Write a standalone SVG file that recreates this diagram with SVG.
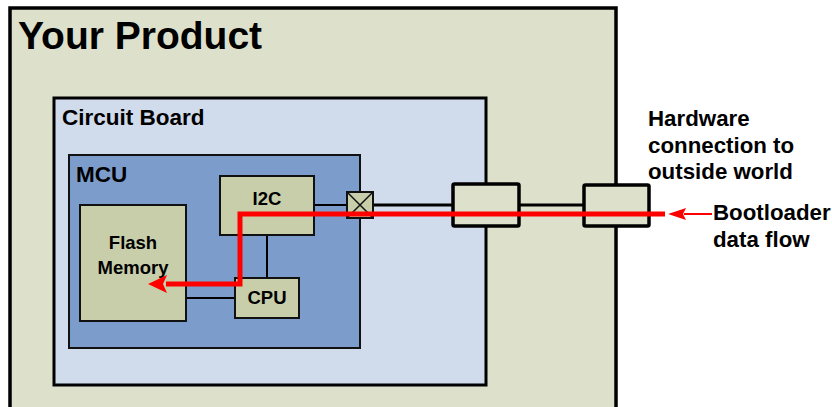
<svg xmlns="http://www.w3.org/2000/svg" width="832" height="407" viewBox="0 0 832 407">
<defs>
<style>
text{font-family:"Liberation Sans",Arial,sans-serif;font-weight:bold;fill:#000}
.blk{fill:#C8CEA9;stroke:#111;stroke-width:2}
.conn{fill:#DDE1CB;stroke:#000;stroke-width:3.5}
.wire{stroke:#000;stroke-width:2;fill:none}
.wire3{stroke:#000;stroke-width:3;fill:none}
.red{stroke:#FF0000;stroke-width:5;fill:none;stroke-linejoin:miter}
</style>
</defs>

<rect width="832" height="407" fill="#FFFFFF"/>

<g id="product">
<rect x="10" y="8" width="606" height="420" fill="#DDE1CB" stroke="#000" stroke-width="3.5"/>
<text x="18" y="49" font-size="39">Your Product</text>
</g>

<g id="circuit-board">
<rect x="54" y="98" width="432" height="287" fill="#D0DBEC" stroke="#000" stroke-width="3"/>
<text x="62" y="125" font-size="22.5">Circuit Board</text>
</g>

<g id="mcu">
<rect x="69" y="155" width="291" height="193" fill="#7C9DCC" stroke="#111" stroke-width="2"/>
<text x="76" y="182" font-size="22.5">MCU</text>
</g>

<g id="connectors">
<line class="wire" x1="267" y1="235" x2="267" y2="278"/>
<line class="wire" x1="186" y1="298" x2="235" y2="298"/>
<line class="wire" x1="314" y1="205" x2="347" y2="205"/>
<line class="wire3" x1="373" y1="205" x2="453" y2="205"/>
<line class="wire3" x1="519" y1="205" x2="584" y2="205"/>
</g>

<g id="i2c">
<rect class="blk" x="220" y="176" width="94" height="59"/>
<text x="267" y="205" font-size="18.5" text-anchor="middle">I2C</text>
</g>

<g id="cpu">
<rect class="blk" x="235" y="278" width="64" height="40"/>
<text x="267" y="304" font-size="18.5" text-anchor="middle">CPU</text>
</g>

<g id="flash">
<rect class="blk" x="80" y="205" width="106" height="116"/>
<text x="133" y="249" font-size="18.5" text-anchor="middle">Flash</text>
<text x="133" y="274" font-size="18.5" text-anchor="middle">Memory</text>
</g>

<g id="pin">
<rect class="blk" x="347" y="192" width="26" height="26"/>
<path d="M347,192 L373,218 M373,192 L347,218" stroke="#111" stroke-width="1.5"/>
</g>

<g id="connector1">
<rect class="conn" x="453" y="184" width="66" height="42" rx="1.5"/>
</g>

<g id="connector2">
<rect class="conn" x="584" y="185" width="65" height="41" rx="1.5"/>
</g>

<g id="flow">
<path class="red" d="M665,214 L240,214 L240,284 L166,284"/>
<path d="M148,284 L167,275 L163,284 L167,293 Z" fill="#FF0000"/>
<line x1="712" y1="214" x2="684" y2="214" stroke="#FF0000" stroke-width="2"/>
<path d="M668,214 L686,208 L683,214 L686,220 Z" fill="#FF0000"/>
</g>

<g id="labels">
<text font-size="22.3" x="648">
<tspan x="648" y="126">Hardware</tspan>
<tspan x="648" y="152.5">connection to</tspan>
<tspan x="648" y="179">outside world</tspan>
</text>
<text font-size="22.3" x="713">
<tspan x="713" y="220">Bootloader</tspan>
<tspan x="713" y="247">data flow</tspan>
</text>
</g>
</svg>
